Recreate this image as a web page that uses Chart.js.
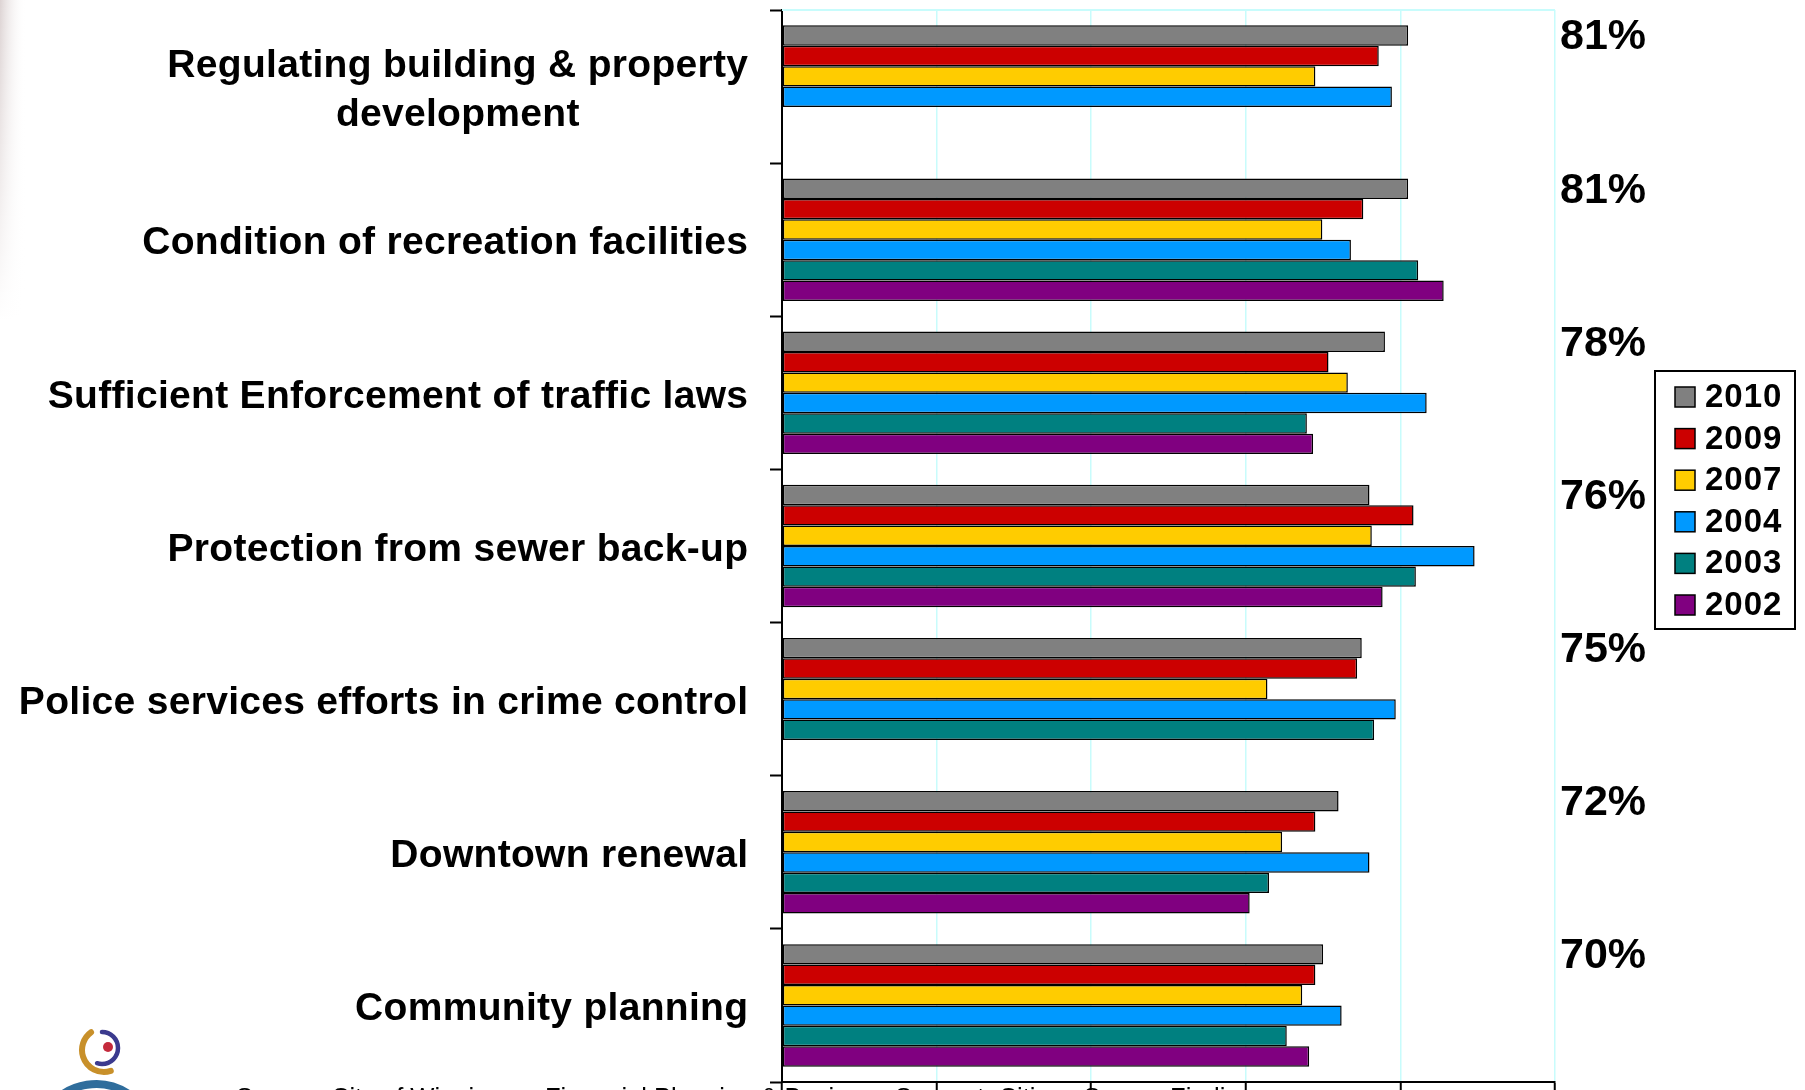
<!DOCTYPE html>
<html>
<head>
<meta charset="utf-8">
<script src="https://cdn.jsdelivr.net/npm/chart.js@4.4.1/dist/chart.umd.min.js"></script>
<style>
  html, body { margin: 0; padding: 0; background: #ffffff; overflow: hidden; }
  #wrap { position: relative; width: 1805px; height: 1090px; }
  canvas { display: block; }
</style>
</head>
<body>
<div id="wrap"><canvas id="chart" width="1805" height="1090"></canvas></div>
<script>
// Satisfaction with city services, by survey year (percent)
const categories = [
  ['Regulating building & property', 'development'],
  'Condition of recreation facilities',
  'Sufficient Enforcement of traffic laws',
  'Protection from sewer back-up',
  'Police services efforts in crime control',
  'Downtown renewal',
  'Community planning'
];
const years = ['2010', '2009', '2007', '2004', '2003', '2002'];
const v2010 = [81, 81, 78, 76, 75, 72, 70];
const v2009 = [77.2, 75.2, 70.7, 81.7, 74.4, 69.0, 69.0];
const v2007 = [69.0, 69.9, 73.2, 76.3, 62.8, 64.7, 67.3];
const v2004 = [78.9, 73.6, 83.4, 89.6, 79.4, 76.0, 72.4];
const v2003 = [null, 82.3, 67.9, 82.0, 76.6, 63.0, 65.3];
const v2002 = [null, 85.6, 68.7, 77.7, null, 60.5, 68.2];
const xTicks = [0, 20, 40, 60, 80, 100];
const sourceNote = 'Source: City of Winnipeg \u2013 Financial Planning & Business Support, Citizen Survey Findings';

const seriesValues = [v2010, v2009, v2007, v2004, v2003, v2002];
const seriesColors = ['#808080', '#CC0000', '#FFCC00', '#0099FF', '#008080', '#800080'];
const FONT = '"Liberation Sans", Arial, Helvetica, sans-serif';
const GRID_CYAN = '#C8FCFC';

Chart.defaults.font.family = FONT;

// Page decorations: faint shading on the left edge and the partial logo at the bottom
const decorPlugin = {
  id: 'decor',
  beforeDraw(chart) {
    const ctx = chart.ctx;
    ctx.save();
    ctx.fillStyle = '#ffffff';
    ctx.fillRect(0, 0, chart.width, chart.height);
    // soft edge shading, fading to the right and downward
    for (let y = 0; y < 320; y += 4) {
      const a = 0.38 * (1 - y / 320);
      const g = ctx.createLinearGradient(0, 0, 26, 0);
      g.addColorStop(0, 'rgba(165,140,140,' + a.toFixed(3) + ')');
      g.addColorStop(1, 'rgba(255,255,255,0)');
      ctx.fillStyle = g;
      ctx.fillRect(0, y, 26, 4);
    }
    ctx.restore();
  },
  afterDraw(chart) {
    const ctx = chart.ctx;
    ctx.save();
    // swirl logo
    ctx.lineCap = 'round';
    ctx.strokeStyle = '#C8902A';
    ctx.lineWidth = 6;
    ctx.beginPath();
    ctx.arc(104, 1050, 22, Math.PI * 0.4, Math.PI * 1.3);
    ctx.stroke();
    ctx.strokeStyle = '#3B3A8E';
    ctx.lineWidth = 4.5;
    ctx.beginPath();
    ctx.arc(102, 1048, 16, Math.PI * 1.5, Math.PI * 0.6);
    ctx.stroke();
    ctx.fillStyle = '#C42A3C';
    ctx.beginPath();
    ctx.arc(108, 1047, 5, 0, Math.PI * 2);
    ctx.fill();
    ctx.strokeStyle = '#2F6D9C';
    ctx.lineWidth = 8;
    ctx.beginPath();
    ctx.arc(96, 1142, 58, Math.PI * 1.2, Math.PI * 1.8);
    ctx.stroke();
    // source note, mostly below the visible page
    ctx.fillStyle = '#000000';
    ctx.font = '25.5px ' + FONT;
    ctx.textAlign = 'left';
    ctx.textBaseline = 'alphabetic';
    ctx.fillText(sourceNote, 236, 1106);
    ctx.restore();
  }
};

// Cyan top border of the plot area
const frameTopPlugin = {
  id: 'frameTop',
  beforeDatasetsDraw(chart) {
    const { ctx, chartArea } = chart;
    ctx.save();
    ctx.strokeStyle = GRID_CYAN;
    ctx.lineWidth = 2;
    ctx.beginPath();
    ctx.moveTo(chartArea.left, chartArea.top);
    ctx.lineTo(chartArea.right, chartArea.top);
    ctx.stroke();
    ctx.restore();
  }
};

// Category labels on the left: right aligned; wrapped lines are centred on each other
const categoryLabelPlugin = {
  id: 'categoryLabels',
  afterDraw(chart) {
    const ctx = chart.ctx;
    const y = chart.scales.y;
    const spacing = 0.3;
    const xRight = y.right - 12 - 22;
    ctx.save();
    ctx.fillStyle = '#000000';
    ctx.font = 'bold 39px ' + FONT;
    ctx.letterSpacing = spacing + 'px';
    ctx.textBaseline = 'middle';
    ctx.textAlign = 'center';
    categories.forEach((lab, i) => {
      const cy = y.getPixelForValue(i);
      const lines = Array.isArray(lab) ? lab : [lab];
      const w = Math.max(...lines.map(l => ctx.measureText(l).width)) - spacing;
      const lh = 49;
      lines.forEach((l, j) => {
        const ly = cy + (j - (lines.length - 1) / 2) * lh;
        ctx.fillText(l, xRight - w / 2 + spacing / 2, ly + 4);
      });
    });
    ctx.restore();
  }
};

// 2010 result printed beside each group
const headlinePlugin = {
  id: 'headline',
  afterDraw(chart) {
    const ctx = chart.ctx;
    const meta = chart.getDatasetMeta(0);
    ctx.save();
    ctx.fillStyle = '#000000';
    ctx.font = 'bold 43px ' + FONT;
    ctx.textAlign = 'left';
    ctx.textBaseline = 'middle';
    meta.data.forEach((bar, i) => {
      ctx.fillText(v2010[i] + '%', chart.chartArea.right + 5, bar.y + 2);
    });
    ctx.restore();
  }
};

// Boxed legend on the right
const legendBoxPlugin = {
  id: 'legendBox',
  afterDraw(chart) {
    const ctx = chart.ctx;
    const bx = 1655, by = 371, bw = 140, bh = 258;
    ctx.save();
    ctx.fillStyle = '#ffffff';
    ctx.fillRect(bx, by, bw, bh);
    ctx.strokeStyle = '#000000';
    ctx.lineWidth = 2;
    ctx.strokeRect(bx, by, bw, bh);
    ctx.font = 'bold 33px ' + FONT;
    ctx.letterSpacing = '1px';
    ctx.textAlign = 'left';
    ctx.textBaseline = 'middle';
    chart.data.datasets.forEach((ds, k) => {
      const cy = by + 26 + k * 41.6;
      ctx.fillStyle = ds.backgroundColor;
      ctx.fillRect(1675, cy - 10, 20, 20);
      ctx.lineWidth = 1.5;
      ctx.strokeStyle = '#000000';
      ctx.strokeRect(1675, cy - 10, 20, 20);
      ctx.fillStyle = '#000000';
      ctx.fillText(ds.label, 1705, cy + 1);
    });
    ctx.restore();
  }
};

const datasets = years.map((yr, k) => ({
  label: yr,
  data: seriesValues[k],
  backgroundColor: seriesColors[k],
  borderColor: '#000000',
  borderWidth: 1.5,
  borderSkipped: false,
  categoryPercentage: 0.8,
  barPercentage: 1.0
}));

new Chart(document.getElementById('chart'), {
  type: 'bar',
  data: { labels: categories, datasets },
  options: {
    indexAxis: 'y',
    responsive: false,
    animation: false,
    devicePixelRatio: 1,
    layout: { padding: { top: 10, right: 250, bottom: 0, left: 0 } },
    plugins: {
      legend: { display: false },
      tooltip: { enabled: false }
    },
    scales: {
      x: {
        min: 0,
        max: 100,
        afterBuildTicks(scale) { scale.ticks = xTicks.map(v => ({ value: v })); },
        ticks: { display: false },
        grid: {
          color: GRID_CYAN,
          lineWidth: 1.5,
          drawTicks: true,
          tickLength: 8,
          tickColor: '#000000',
          tickWidth: 2
        },
        border: { color: '#000000', width: 2 }
      },
      y: {
        afterFit(scale) { scale.width = 782; },
        ticks: { display: false },
        grid: {
          offset: true,
          drawOnChartArea: false,
          drawTicks: true,
          tickLength: 12,
          tickColor: '#000000',
          tickWidth: 2
        },
        border: { color: '#000000', width: 2 }
      }
    }
  },
  plugins: [decorPlugin, frameTopPlugin, categoryLabelPlugin, headlinePlugin, legendBoxPlugin]
});
</script>
</body>
</html>
